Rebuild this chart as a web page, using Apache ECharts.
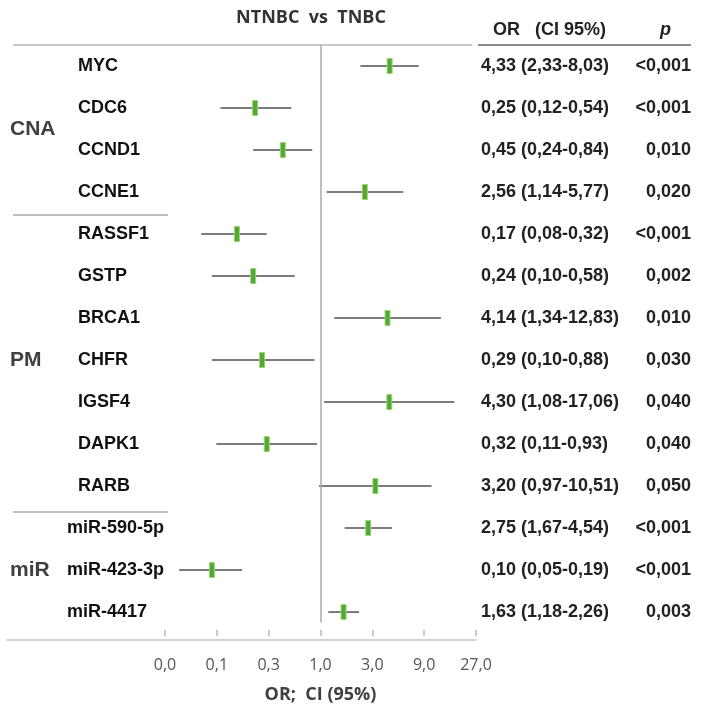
<!DOCTYPE html>
<html>
<head>
<meta charset="utf-8">
<script src="https://cdn.jsdelivr.net/npm/echarts@6/dist/echarts.min.js"></script>
<style>
    html, body { margin: 0; padding: 0; background: #fff; }
    #forest { width: 702px; height: 709px; }
</style>
</head>
<body>
<div id="forest"></div>
<script>
// data
const groups = ["CNA", "PM", "miR"];
const groupRows = [[0, 3], [4, 10], [11, 13]];
const genes = ["MYC", "CDC6", "CCND1", "CCNE1", "RASSF1", "GSTP", "BRCA1", "CHFR",
    "IGSF4", "DAPK1", "RARB", "miR-590-5p", "miR-423-3p", "miR-4417"];
const orValues = [4.33, 0.25, 0.45, 2.56, 0.17, 0.24, 4.14, 0.29, 4.30, 0.32, 3.20, 2.75, 0.10, 1.63];
const ciLow = [2.33, 0.12, 0.24, 1.14, 0.08, 0.10, 1.34, 0.10, 1.08, 0.11, 0.97, 1.67, 0.05, 1.18];
const ciHigh = [8.03, 0.54, 0.84, 5.77, 0.32, 0.58, 12.83, 0.88, 17.06, 0.93, 10.51, 4.54, 0.19, 2.26];
const pValues = ["<0,001", "<0,001", "0,010", "0,020", "<0,001", "0,002", "0,010", "0,030",
    "0,040", "0,040", "0,050", "<0,001", "<0,001", "0,003"];

const fmt = v => v.toFixed(2).replace(".", ",");
const labelFont = 'bold 18px "Liberation Sans", Arial, sans-serif';

const rowData = genes.map((g, i) => [i, orValues[i], ciLow[i], ciHigh[i]]);
const groupData = groups.map((g, k) => [(groupRows[k][0] + groupRows[k][1]) / 2, k]);

const chart = echarts.init(document.getElementById("forest"));

chart.setOption({
    animation: false,
    grid: [
        { left: 165, right: 226, top: 45, bottom: 69 },
        { left: 7, right: 226, top: 45, bottom: 69 }
    ],
    xAxis: [
        {
            type: "log",
            logBase: 3,
            gridIndex: 0,
            min: 1 / 27,
            max: 27,
            splitNumber: 6,
            axisLine: { show: false, onZero: false },
            axisTick: { show: true, inside: true, length: 6, lineStyle: { color: "#b8b8b8", width: 1.5 } },
            axisLabel: {
                margin: 21,
                color: "#555",
                fontFamily: "Open Sans",
                fontSize: 16,
                formatter: v => v.toFixed(1).replace(".", ",")
            },
            splitLine: { show: false },
            name: "OR;  CI (95%)",
            nameLocation: "middle",
            nameGap: 50,
            nameTextStyle: { color: "#404040", fontFamily: "Open Sans", fontWeight: "bold", fontSize: 18 }
        },
        {
            type: "value",
            gridIndex: 1,
            min: 0,
            max: 1,
            axisLine: { show: true, onZero: false, lineStyle: { color: "#d4d4d4", width: 2 } },
            axisTick: { show: false },
            axisLabel: { show: false },
            splitLine: { show: false }
        }
    ],
    yAxis: [
        { type: "value", gridIndex: 0, inverse: true, min: -0.5, max: 13.57, show: false },
        { type: "value", gridIndex: 1, min: 0, max: 1, show: false }
    ],
    graphic: [
        { type: "text", x: 311, y: 18, style: { text: "NTNBC  vs  TNBC", font: 'bold 18px "Open Sans"', fill: "#333", align: "center", verticalAlign: "middle" } },
        { type: "text", x: 493, y: 30, style: { text: "OR   (CI 95%)", font: labelFont, fill: "#222", verticalAlign: "middle" } },
        { type: "text", x: 660, y: 30, style: { text: "p", font: 'italic bold 18px "Liberation Sans", Arial', fill: "#222", verticalAlign: "middle" } },
        { type: "line", shape: { x1: 13, y1: 45, x2: 472, y2: 45 }, style: { stroke: "#c8c8c8", lineWidth: 2 } },
        { type: "line", shape: { x1: 478, y1: 45, x2: 691, y2: 45 }, style: { stroke: "#666", lineWidth: 1.5 } },
        { type: "line", shape: { x1: 13, y1: 215, x2: 168, y2: 215 }, style: { stroke: "#aaa", lineWidth: 1.5 } },
        { type: "line", shape: { x1: 13, y1: 512, x2: 168, y2: 512 }, style: { stroke: "#aaa", lineWidth: 1.5 } }
    ],
    series: [
        {
            type: "custom",
            xAxisIndex: 0,
            yAxisIndex: 0,
            data: rowData,
            encode: { x: [1, 2, 3], y: 0 },
            renderItem: function (params, api) {
                const i = api.value(0);
                const p = api.coord([api.value(1), i]);
                const lo = api.coord([api.value(2), i]);
                const hi = api.coord([api.value(3), i]);
                const nameX = genes[i].startsWith("miR") ? 67 : 78;
                return {
                    type: "group",
                    children: [
                        { type: "line", shape: { x1: lo[0], y1: p[1], x2: hi[0], y2: p[1] }, style: { stroke: "#505050", lineWidth: 1.5 } },
                        { type: "rect", shape: { x: p[0] - 2.5, y: p[1] - 7.5, width: 5, height: 15 }, style: { fill: "#4fa83a", stroke: "#a3d46c", lineWidth: 1 } },
                        { type: "text", x: nameX, y: p[1], style: { text: genes[i], font: labelFont, fill: "#111", verticalAlign: "middle" } },
                        { type: "text", x: 481, y: p[1], style: { text: fmt(orValues[i]) + " (" + fmt(ciLow[i]) + "-" + fmt(ciHigh[i]) + ")", font: labelFont, fill: "#222", verticalAlign: "middle" } },
                        { type: "text", x: 691, y: p[1], style: { text: pValues[i], font: labelFont, fill: "#222", align: "right", verticalAlign: "middle" } }
                    ]
                };
            },
            markLine: {
                silent: true,
                symbol: "none",
                label: { show: false },
                lineStyle: { color: "#aaa", width: 1.5, type: "solid" },
                data: [[{ coord: [1, -0.5] }, { coord: [1, 13.25] }]]
            },
            z: 3
        },
        {
            type: "custom",
            xAxisIndex: 0,
            yAxisIndex: 0,
            data: groupData,
            encode: { y: 0 },
            renderItem: function (params, api) {
                const y = api.coord([1, api.value(0)])[1];
                return {
                    type: "text", x: 10, y: y,
                    style: { text: groups[api.value(1)], font: 'bold 21px "Liberation Sans", Arial', fill: "#404040", verticalAlign: "middle" }
                };
            }
        }
    ]
});
</script>
</body>
</html>
